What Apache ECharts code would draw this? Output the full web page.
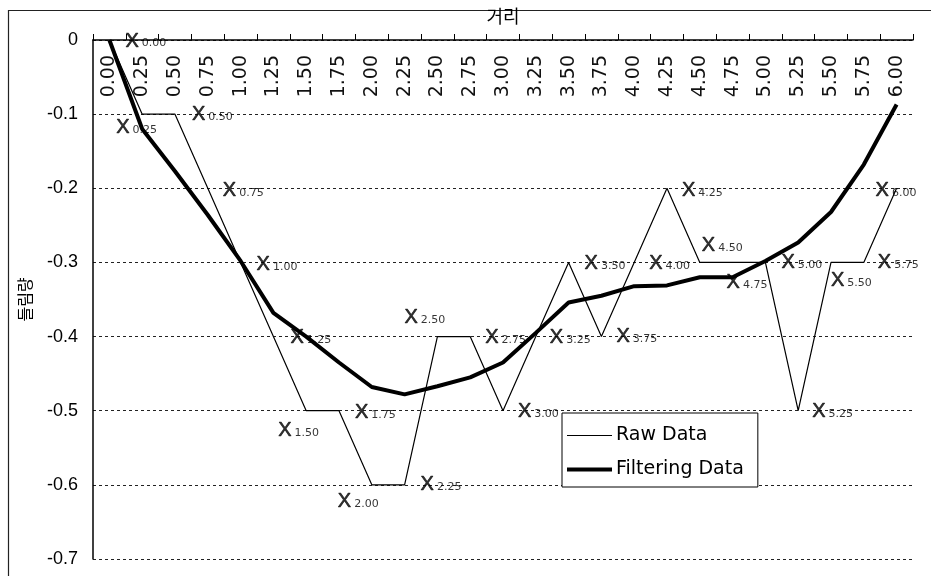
<!DOCTYPE html>
<html>
<head>
<meta charset="utf-8">
<script src="https://cdn.jsdelivr.net/npm/echarts@6/dist/echarts.min.js"></script>
<style>
html,body{margin:0;padding:0;background:#fff;}
#chart{width:931px;height:576px;}
</style>
</head>
<body>
<div id="chart"></div>
<script>
// ---- data ----
const categories = ['0.00','0.25','0.50','0.75','1.00','1.25','1.50','1.75','2.00','2.25','2.50','2.75','3.00','3.25','3.50','3.75','4.00','4.25','4.50','4.75','5.00','5.25','5.50','5.75','6.00'];
const rawData = [0,-0.1,-0.1,-0.2,-0.3,-0.4,-0.5,-0.5,-0.6,-0.6,-0.4,-0.4,-0.5,-0.4,-0.3,-0.4,-0.3,-0.2,-0.3,-0.3,-0.3,-0.5,-0.3,-0.3,-0.2];
const filterData = [0,-0.12,-0.177,-0.236,-0.298,-0.368,-0.40,-0.435,-0.468,-0.478,-0.467,-0.455,-0.435,-0.395,-0.354,-0.345,-0.332,-0.331,-0.320,-0.320,-0.298,-0.273,-0.232,-0.168,-0.087];
const seriesNames = ['Raw Data','Filtering Data'];
const xAxisName = '거리';
const yAxisName = '들림량';

// ---- label placement (style: pixel offset of the "X" centre from its raw point) ----
const labelOffsets = [[22,1],[-20,13],[23,0],[21,2],[22,2],[23,1],[-22,20],[22,2],[-28,17],[22,0],[-27,-19],[21,1],[21,1],[20,1],[22,1],[21,0],[21,1],[21,2],[8,-17],[0,20],[22,0],[20,1],[6,18],[20,0],[-15,2]];

const chart = echarts.init(document.getElementById('chart'), null, {renderer:'canvas'});

const labelPoints = rawData.map((v,i)=>({
  value: v,
  label: { offset: [labelOffsets[i][0]-6, labelOffsets[i][1]] }
}));

const option = {
  animation: false,
  backgroundColor: '#fff',
  graphic: [{
    type: 'rect', silent: true, z: -1,
    shape: {x: 8.5, y: 10.5, width: 940, height: 600},
    style: {fill: 'none', stroke: '#222', lineWidth: 1.2}
  }],
  grid: {left: 93, right: 18, top: 40, bottom: 17, containLabel: false},
  legend: {
    data: [
      {name: seriesNames[0], icon: 'path://M0,0H100V2.6H0Z'},
      {name: seriesNames[1], icon: 'path://M0,0H100V9H0Z'}
    ],
    orient: 'vertical',
    left: 562, top: 413,
    width: 193,
    backgroundColor: '#fff',
    borderColor: '#000', borderWidth: 1,
    padding: [13, 14, 8, 5],
    itemGap: 15,
    itemWidth: 45, itemHeight: 14,
    itemStyle: {color: '#000', borderWidth: 0},
    textStyle: {fontFamily: 'DejaVu Sans', fontSize: 19, color: '#000', padding:[0,0,0,-1]}
  },
  xAxis: {
    type: 'category',
    data: categories,
    position: 'top',
    boundaryGap: true,
    name: xAxisName,
    nameLocation: 'middle',
    nameGap: 15,
    nameTextStyle: {fontFamily: 'Noto Sans CJK KR', fontSize: 18, color: '#000'},
    axisLine: {show: true, lineStyle: {color: '#000', width: 1.5}},
    axisTick: {show: true, inside: false, length: 6, alignWithLabel: false, lineStyle: {color: '#000', width: 1}},
    axisLabel: {inside: true, rotate: 90, margin: 15, interval: 0, fontFamily: 'DejaVu Sans', fontSize: 19, color: '#111'},
    splitLine: {show: false}
  },
  yAxis: {
    type: 'value',
    min: -0.7, max: 0, interval: 0.1,
    name: yAxisName,
    nameLocation: 'middle',
    nameGap: 60,
    nameTextStyle: {fontFamily: 'Noto Sans CJK KR', fontSize: 16, color: '#000'},
    axisLine: {show: true, lineStyle: {color: '#000', width: 1.5}},
    axisTick: {show: false},
    axisLabel: {margin: 15, fontFamily: 'Liberation Sans', fontSize: 18, color: '#000'},
    splitLine: {show: true, lineStyle: {color: '#222', width: 1, type: [3, 3]}}
  },
  series: [
    {
      name: seriesNames[0], type: 'line', data: rawData,
      symbol: 'none', showSymbol: false,
      lineStyle: {color: '#000', width: 1.2},
      itemStyle: {color: '#000'},
      z: 3
    },
    {
      name: seriesNames[1], type: 'line', data: filterData,
      symbol: 'none', showSymbol: false,
      lineStyle: {color: '#000', width: 4},
      itemStyle: {color: '#000'},
      z: 4
    },
    {
      name: 'labels', type: 'scatter', data: labelPoints,
      symbolSize: 0, silent: true, z: 5,
      label: {
        show: true,
        position: [0, 0],
        align: 'left', verticalAlign: 'middle',
        formatter: p => '{x|X}{s|' + categories[p.dataIndex] + '}',
        rich: {
          x: {fontFamily: 'Liberation Sans', fontSize: 20, color: '#000', textBorderColor: '#000', textBorderWidth: 0.6, verticalAlign: 'bottom', lineHeight: 20},
          s: {fontFamily: 'DejaVu Sans', fontSize: 11, color: '#000', verticalAlign: 'bottom', lineHeight: 14, padding: [0,0,2,3]}
        }
      }
    }
  ]
};
chart.setOption(option);
</script>
</body>
</html>
